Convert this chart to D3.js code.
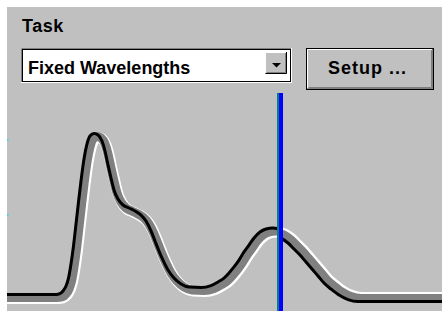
<!DOCTYPE html>
<html>
<head>
<meta charset="utf-8">
<title>Task</title>
<script src="https://cdn.jsdelivr.net/npm/d3@7"></script>
<style type="text/css">
  body { margin: 0; background: #fff; }
  svg { display: block; }
  .lbl { font-family: "Liberation Sans", Arial, sans-serif; font-weight: bold; font-size: 18px; fill: #000; }
</style>
</head>
<body>
<svg id="panel" width="442" height="311"></svg>
<script type="text/javascript">

// spectrum (wavelength nm / absorbance)
var wavelength = [190, 251, 256, 260, 263, 265.5, 268, 270.5, 273, 275.5, 278, 281, 284, 287, 291, 295, 299, 302, 305, 308,
                  311, 315, 320, 326, 332, 338, 343, 348, 352, 356, 360, 365, 371, 378, 386, 398, 408, 415, 421, 426,
                  431, 436, 441, 446, 451, 457, 463, 470, 478, 485, 491, 497, 503, 509, 515, 521, 528, 536, 545, 555, 650];
var absorbance = [-0.057, -0.057, -0.053, -0.033, 0, 0.053, 0.147, 0.267, 0.413, 0.56, 0.70, 0.847, 0.947, 1.0, 1.017, 1.007, 0.967, 0.90, 0.807, 0.72,
                  0.64, 0.58, 0.54, 0.52, 0.50, 0.473, 0.433, 0.367, 0.30, 0.233, 0.173, 0.107, 0.053, 0.013, -0.007, -0.01, 0.003, 0.027, 0.053, 0.087,
                  0.127, 0.173, 0.227, 0.273, 0.32, 0.36, 0.38, 0.387, 0.373, 0.34, 0.30, 0.26, 0.213, 0.167, 0.12, 0.073, 0.033, -0.007, -0.037, -0.05, -0.05];
var cursorNm = 470;
var tickVals = [0.5, 1.0];

var taskLabel = "Task";
var taskChoice = "Fixed Wavelengths";
var setupLabel = "Setup ...";

var svg = d3.select("#panel");

// grey dialog panel
svg.append("rect").attr("x", 7).attr("y", 7).attr("width", 435).attr("height", 304).attr("fill", "#c0c0c0");

// ---- controls ----
svg.append("text").attr("class", "lbl").attr("x", 22).attr("y", 31.5)
   .style("letter-spacing", "0.5px").text(taskLabel);

function edge(pts, col) {
  svg.append("polyline").attr("points", pts).attr("fill", "none").attr("stroke", col).attr("stroke-width", 1);
}

// combo box
svg.append("rect").attr("x", 21).attr("y", 48).attr("width", 271).attr("height", 35).attr("fill", "#fff");
edge("21.5,82 21.5,48.5 292,48.5", "#808080");
edge("21.5,82.5 291.5,82.5 291.5,48", "#fff");
svg.append("rect").attr("x", 22.5).attr("y", 49.5).attr("width", 268).attr("height", 32)
   .attr("fill", "none").attr("stroke", "#000");
svg.append("text").attr("class", "lbl").attr("x", 28).attr("y", 74).text(taskChoice);

// combo arrow button
svg.append("rect").attr("x", 265).attr("y", 52).attr("width", 22).attr("height", 22).attr("fill", "#c0c0c0");
edge("265.5,73 265.5,52.5 286,52.5", "#fff");
edge("265.5,73.5 286.5,73.5 286.5,52", "#000");
edge("266.5,72.5 285.5,72.5 285.5,53", "#808080");
svg.append("path").attr("d", "M272,63 L281,63 L276.5,67.5 Z").attr("fill", "#000");

// Setup button
svg.append("rect").attr("x", 306.5).attr("y", 48.5).attr("width", 127).attr("height", 41)
   .attr("fill", "#c0c0c0").attr("stroke", "#000");
edge("307.5,88 307.5,49.5 432,49.5", "#fff");
edge("307.5,88.5 432.5,88.5 432.5,49", "#808080");
edge("308.5,87.5 431.5,87.5 431.5,50", "#808080");
svg.append("text").attr("class", "lbl").attr("x", 328).attr("y", 74)
   .style("letter-spacing", "1px").text(setupLabel);

// ---- spectrum ----
var x = d3.scaleLinear().domain([200, 635]).range([7, 442]);
var y = d3.scaleLinear().domain([0, 1]).range([290, 140]);

var data = wavelength.map(function(w, i) { return {nm: w, a: absorbance[i]}; });
var line = d3.line().x(d => x(d.nm)).y(d => y(d.a)).curve(d3.curveMonotoneX);

var cut = d3.bisectLeft(wavelength, cursorNm);
var leftData = data.slice(0, cut + 2);
var rightData = data.slice(Math.max(cut - 1, 0));

var defs = svg.append("defs");
defs.append("clipPath").attr("id", "clipL").append("rect")
    .attr("x", 7).attr("y", 7).attr("width", x(cursorNm) - 7).attr("height", 304);
defs.append("clipPath").attr("id", "clipR").append("rect")
    .attr("x", x(cursorNm)).attr("y", 7).attr("width", 442 - x(cursorNm)).attr("height", 304);

// embossed trace: white / grey / black strokes shifted against each other
var layers = [
  {col: "#fff", w: 11, d: 0},
  {col: "#808080", w: 9, d: -1},
  {col: "#000", w: 3, d: -4}
];

var gL = svg.append("g").attr("clip-path", "url(#clipL)");
var gR = svg.append("g").attr("clip-path", "url(#clipR)");

layers.forEach(function(l) {
  gL.append("path").datum(leftData).attr("d", line)
    .attr("fill", "none").attr("stroke", l.col).attr("stroke-width", l.w)
    .attr("stroke-linejoin", "round")
    .attr("transform", "translate(" + l.d + "," + l.d + ")");
  // light flips on the far side of the cursor
  gR.append("path").datum(rightData).attr("d", line)
    .attr("fill", "none").attr("stroke", l.col).attr("stroke-width", l.w)
    .attr("stroke-linejoin", "round")
    .attr("transform", "translate(" + l.d + "," + (-l.d) + ")");
});

// little tick marks on the left edge
svg.selectAll(".tick").data(tickVals).enter().append("rect")
   .attr("x", 7).attr("y", d => y(d) - 1).attr("width", 1.5).attr("height", 2)
   .attr("fill", "#3cd8d8");

// wavelength cursor
svg.append("rect").attr("x", x(cursorNm)).attr("y", 93).attr("width", 2).attr("height", 218).attr("fill", "#008080");
svg.append("rect").attr("x", x(cursorNm) + 2).attr("y", 93).attr("width", 4).attr("height", 218).attr("fill", "#0000ff");

</script>
</body>
</html>
